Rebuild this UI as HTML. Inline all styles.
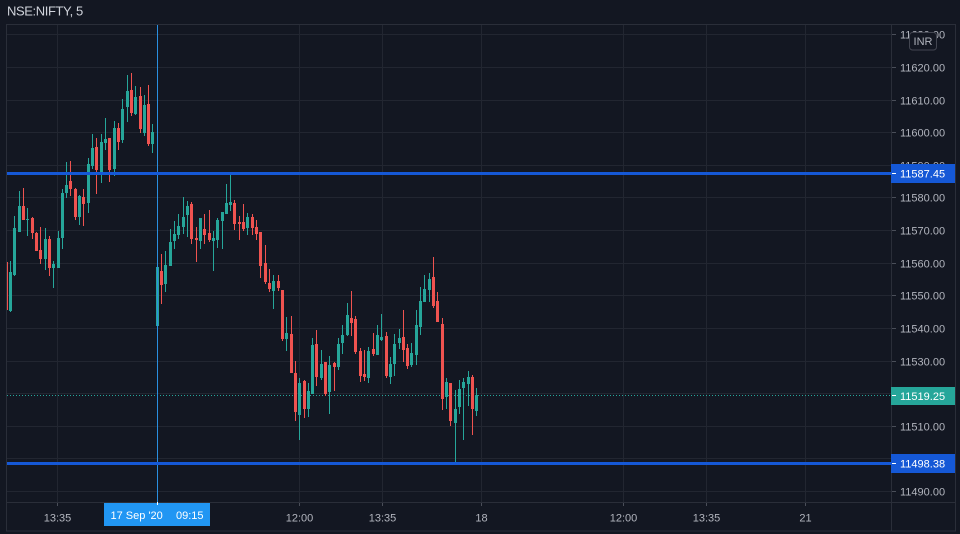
<!DOCTYPE html>
<html><head><meta charset="utf-8"><style>
html,body{margin:0;padding:0;background:#131722;width:960px;height:534px;overflow:hidden}
svg{display:block}
text{font-family:"Liberation Sans",sans-serif}
</style></head><body>
<svg width="960" height="534" viewBox="0 0 960 534" xmlns="http://www.w3.org/2000/svg">
<rect x="0" y="0" width="960" height="534" fill="#131722"/>
<defs><clipPath id="pane"><rect x="7" y="25" width="884" height="477"/></clipPath></defs>
<text x="7" y="15.5" font-size="13" letter-spacing="-0.4" fill="#d1d4dc">NSE:NIFTY, 5</text>
<g stroke="#222631" stroke-width="1">
<line x1="7" x2="891" y1="34.5" y2="34.5"/><line x1="7" x2="891" y1="67.5" y2="67.5"/><line x1="7" x2="891" y1="100.5" y2="100.5"/><line x1="7" x2="891" y1="132.5" y2="132.5"/><line x1="7" x2="891" y1="165.5" y2="165.5"/><line x1="7" x2="891" y1="197.5" y2="197.5"/><line x1="7" x2="891" y1="230.5" y2="230.5"/><line x1="7" x2="891" y1="263.5" y2="263.5"/><line x1="7" x2="891" y1="295.5" y2="295.5"/><line x1="7" x2="891" y1="328.5" y2="328.5"/><line x1="7" x2="891" y1="361.5" y2="361.5"/><line x1="7" x2="891" y1="393.5" y2="393.5"/><line x1="7" x2="891" y1="426.5" y2="426.5"/><line x1="7" x2="891" y1="458.5" y2="458.5"/><line x1="7" x2="891" y1="491.5" y2="491.5"/>
<line x1="57.5" x2="57.5" y1="25" y2="502"/><line x1="157.5" x2="157.5" y1="25" y2="502"/><line x1="299.5" x2="299.5" y1="25" y2="502"/><line x1="382.5" x2="382.5" y1="25" y2="502"/><line x1="481.5" x2="481.5" y1="25" y2="502"/><line x1="623.5" x2="623.5" y1="25" y2="502"/><line x1="706.5" x2="706.5" y1="25" y2="502"/><line x1="805.5" x2="805.5" y1="25" y2="502"/>
</g>
<g clip-path="url(#pane)">
<line x1="7" x2="891" y1="395.5" y2="395.5" stroke="#26a69a" stroke-width="1" stroke-dasharray="1 2"/>
<g fill="#26a69a">
<rect x="10" y="261" width="1" height="51"/><rect x="9" y="272" width="3" height="39"/>
<rect x="14" y="216" width="1" height="60"/><rect x="13" y="228" width="3" height="47"/>
<rect x="19" y="191" width="1" height="41"/><rect x="18" y="206" width="3" height="26"/>
<rect x="27" y="208" width="1" height="28"/><rect x="26" y="219" width="3" height="1"/>
<rect x="45" y="228" width="1" height="42"/><rect x="44" y="239" width="3" height="20"/>
<rect x="53" y="261" width="1" height="27"/><rect x="52" y="264" width="3" height="4"/>
<rect x="58" y="231" width="1" height="37"/><rect x="57" y="238" width="3" height="30"/>
<rect x="62" y="189" width="1" height="60"/><rect x="61" y="193" width="3" height="45"/>
<rect x="66" y="162" width="1" height="36"/><rect x="65" y="185" width="3" height="8"/>
<rect x="79" y="195" width="1" height="30"/><rect x="78" y="196" width="3" height="21"/>
<rect x="88" y="158" width="1" height="55"/><rect x="87" y="164" width="3" height="39"/>
<rect x="92" y="134" width="1" height="35"/><rect x="91" y="148" width="3" height="18"/>
<rect x="101" y="134" width="1" height="49"/><rect x="100" y="142" width="3" height="30"/>
<rect x="105" y="118" width="1" height="32"/><rect x="104" y="139" width="3" height="4"/>
<rect x="114" y="121" width="1" height="55"/><rect x="113" y="128" width="3" height="41"/>
<rect x="122" y="99" width="1" height="44"/><rect x="121" y="109" width="3" height="31"/>
<rect x="127" y="75" width="1" height="47"/><rect x="126" y="91" width="3" height="16"/>
<rect x="135" y="86" width="1" height="29"/><rect x="134" y="97" width="3" height="17"/>
<rect x="144" y="95" width="1" height="41"/><rect x="143" y="105" width="3" height="28"/>
<rect x="152" y="124" width="1" height="29"/><rect x="151" y="132" width="3" height="12"/>
<rect x="157" y="263" width="1" height="64"/><rect x="156" y="267" width="3" height="59"/>
<rect x="165" y="251" width="1" height="41"/><rect x="164" y="265" width="3" height="19"/>
<rect x="170" y="229" width="1" height="37"/><rect x="169" y="242" width="3" height="24"/>
<rect x="174" y="221" width="1" height="28"/><rect x="173" y="234" width="3" height="7"/>
<rect x="178" y="214" width="1" height="25"/><rect x="177" y="226" width="3" height="9"/>
<rect x="183" y="197" width="1" height="37"/><rect x="182" y="217" width="3" height="10"/>
<rect x="187" y="201" width="1" height="36"/><rect x="186" y="206" width="3" height="9"/>
<rect x="200" y="218" width="1" height="31"/><rect x="199" y="218" width="3" height="23"/>
<rect x="213" y="231" width="1" height="40"/><rect x="212" y="238" width="3" height="3"/>
<rect x="217" y="218" width="1" height="30"/><rect x="216" y="220" width="3" height="20"/>
<rect x="222" y="212" width="1" height="37"/><rect x="221" y="212" width="3" height="9"/>
<rect x="226" y="184" width="1" height="30"/><rect x="225" y="203" width="3" height="11"/>
<rect x="230" y="173" width="1" height="38"/><rect x="229" y="202" width="3" height="3"/>
<rect x="247" y="213" width="1" height="22"/><rect x="246" y="217" width="3" height="11"/>
<rect x="273" y="275" width="1" height="34"/><rect x="272" y="281" width="3" height="10"/>
<rect x="286" y="317" width="1" height="34"/><rect x="285" y="333" width="3" height="6"/>
<rect x="299" y="378" width="1" height="62"/><rect x="298" y="383" width="3" height="32"/>
<rect x="308" y="383" width="1" height="34"/><rect x="307" y="391" width="3" height="18"/>
<rect x="312" y="338" width="1" height="56"/><rect x="311" y="345" width="3" height="49"/>
<rect x="321" y="350" width="1" height="30"/><rect x="320" y="364" width="3" height="14"/>
<rect x="329" y="356" width="1" height="58"/><rect x="328" y="365" width="3" height="27"/>
<rect x="338" y="338" width="1" height="32"/><rect x="337" y="344" width="3" height="23"/>
<rect x="342" y="325" width="1" height="29"/><rect x="341" y="335" width="3" height="8"/>
<rect x="347" y="303" width="1" height="33"/><rect x="346" y="315" width="3" height="20"/>
<rect x="368" y="347" width="1" height="36"/><rect x="367" y="351" width="3" height="27"/>
<rect x="377" y="325" width="1" height="30"/><rect x="376" y="335" width="3" height="20"/>
<rect x="381" y="314" width="1" height="27"/><rect x="380" y="337" width="3" height="3"/>
<rect x="390" y="357" width="1" height="27"/><rect x="389" y="364" width="3" height="13"/>
<rect x="394" y="334" width="1" height="42"/><rect x="393" y="344" width="3" height="20"/>
<rect x="399" y="329" width="1" height="20"/><rect x="398" y="338" width="3" height="5"/>
<rect x="411" y="343" width="1" height="24"/><rect x="410" y="353" width="3" height="12"/>
<rect x="416" y="310" width="1" height="55"/><rect x="415" y="325" width="3" height="30"/>
<rect x="420" y="287" width="1" height="48"/><rect x="419" y="301" width="3" height="26"/>
<rect x="424" y="275" width="1" height="27"/><rect x="423" y="289" width="3" height="13"/>
<rect x="429" y="273" width="1" height="29"/><rect x="428" y="279" width="3" height="11"/>
<rect x="446" y="378" width="1" height="31"/><rect x="445" y="382" width="3" height="15"/>
<rect x="455" y="390" width="1" height="73"/><rect x="454" y="409" width="3" height="14"/>
<rect x="459" y="380" width="1" height="34"/><rect x="458" y="389" width="3" height="18"/>
<rect x="463" y="378" width="1" height="62"/><rect x="462" y="382" width="3" height="6"/>
<rect x="468" y="371" width="1" height="35"/><rect x="467" y="377" width="3" height="7"/>
<rect x="476" y="388" width="1" height="28"/><rect x="475" y="395" width="3" height="16"/>
</g>
<g fill="#ef5350">
<rect x="6" y="262" width="1" height="49"/><rect x="5" y="262" width="3" height="48"/>
<rect x="23" y="188" width="1" height="32"/><rect x="22" y="206" width="3" height="14"/>
<rect x="32" y="217" width="1" height="22"/><rect x="31" y="218" width="3" height="15"/>
<rect x="36" y="232" width="1" height="19"/><rect x="35" y="233" width="3" height="18"/>
<rect x="40" y="227" width="1" height="37"/><rect x="39" y="250" width="3" height="9"/>
<rect x="49" y="236" width="1" height="40"/><rect x="48" y="239" width="3" height="29"/>
<rect x="70" y="161" width="1" height="35"/><rect x="69" y="181" width="3" height="8"/>
<rect x="75" y="188" width="1" height="32"/><rect x="74" y="189" width="3" height="28"/>
<rect x="83" y="189" width="1" height="37"/><rect x="82" y="197" width="3" height="7"/>
<rect x="96" y="138" width="1" height="56"/><rect x="95" y="147" width="3" height="23"/>
<rect x="109" y="138" width="1" height="44"/><rect x="108" y="138" width="3" height="32"/>
<rect x="118" y="123" width="1" height="27"/><rect x="117" y="128" width="3" height="14"/>
<rect x="131" y="73" width="1" height="43"/><rect x="130" y="90" width="3" height="23"/>
<rect x="140" y="87" width="1" height="46"/><rect x="139" y="96" width="3" height="33"/>
<rect x="148" y="85" width="1" height="61"/><rect x="147" y="104" width="3" height="40"/>
<rect x="161" y="254" width="1" height="50"/><rect x="160" y="271" width="3" height="14"/>
<rect x="191" y="202" width="1" height="42"/><rect x="190" y="204" width="3" height="35"/>
<rect x="196" y="227" width="1" height="35"/><rect x="195" y="238" width="3" height="2"/>
<rect x="204" y="214" width="1" height="30"/><rect x="203" y="229" width="3" height="6"/>
<rect x="209" y="210" width="1" height="32"/><rect x="208" y="233" width="3" height="7"/>
<rect x="234" y="200" width="1" height="30"/><rect x="233" y="203" width="3" height="21"/>
<rect x="239" y="216" width="1" height="24"/><rect x="238" y="222" width="3" height="2"/>
<rect x="243" y="204" width="1" height="27"/><rect x="242" y="222" width="3" height="7"/>
<rect x="252" y="214" width="1" height="21"/><rect x="251" y="217" width="3" height="11"/>
<rect x="256" y="220" width="1" height="20"/><rect x="255" y="227" width="3" height="7"/>
<rect x="260" y="232" width="1" height="46"/><rect x="259" y="232" width="3" height="34"/>
<rect x="265" y="245" width="1" height="39"/><rect x="264" y="263" width="3" height="19"/>
<rect x="269" y="269" width="1" height="23"/><rect x="268" y="283" width="3" height="6"/>
<rect x="278" y="275" width="1" height="16"/><rect x="277" y="281" width="3" height="7"/>
<rect x="282" y="290" width="1" height="51"/><rect x="281" y="290" width="3" height="49"/>
<rect x="291" y="316" width="1" height="57"/><rect x="290" y="334" width="3" height="39"/>
<rect x="295" y="361" width="1" height="60"/><rect x="294" y="373" width="3" height="39"/>
<rect x="304" y="380" width="1" height="38"/><rect x="303" y="381" width="3" height="28"/>
<rect x="316" y="330" width="1" height="56"/><rect x="315" y="344" width="3" height="33"/>
<rect x="325" y="362" width="1" height="34"/><rect x="324" y="362" width="3" height="32"/>
<rect x="334" y="362" width="1" height="29"/><rect x="333" y="363" width="3" height="4"/>
<rect x="351" y="291" width="1" height="45"/><rect x="350" y="318" width="3" height="5"/>
<rect x="355" y="316" width="1" height="38"/><rect x="354" y="319" width="3" height="33"/>
<rect x="360" y="348" width="1" height="34"/><rect x="359" y="351" width="3" height="25"/>
<rect x="364" y="350" width="1" height="31"/><rect x="363" y="374" width="3" height="3"/>
<rect x="373" y="333" width="1" height="23"/><rect x="372" y="349" width="3" height="5"/>
<rect x="386" y="332" width="1" height="46"/><rect x="385" y="336" width="3" height="40"/>
<rect x="403" y="310" width="1" height="52"/><rect x="402" y="337" width="3" height="13"/>
<rect x="407" y="344" width="1" height="25"/><rect x="406" y="348" width="3" height="18"/>
<rect x="433" y="257" width="1" height="51"/><rect x="432" y="277" width="3" height="29"/>
<rect x="437" y="292" width="1" height="30"/><rect x="436" y="301" width="3" height="21"/>
<rect x="442" y="318" width="1" height="92"/><rect x="441" y="324" width="3" height="75"/>
<rect x="450" y="383" width="1" height="43"/><rect x="449" y="383" width="3" height="38"/>
<rect x="472" y="375" width="1" height="60"/><rect x="471" y="377" width="3" height="32"/>
</g>
<line x1="157.5" x2="157.5" y1="25" y2="502" stroke="#2a8fe0" stroke-width="1"/>
<rect x="7" y="172" width="884" height="3" fill="#1558d6"/>
<rect x="7" y="462" width="884" height="3" fill="#1558d6"/>
</g>
<g stroke="#2a2e39" stroke-width="1" fill="none">
<rect x="6.5" y="24.5" width="949" height="506.5"/>
<line x1="891.5" x2="891.5" y1="24.5" y2="531"/>
<line x1="6.5" x2="955.5" y1="502.5" y2="502.5"/>
</g>
<g stroke="#4a4e59" stroke-width="1">
<line x1="892" x2="896" y1="34.5" y2="34.5"/><line x1="892" x2="896" y1="67.5" y2="67.5"/><line x1="892" x2="896" y1="100.5" y2="100.5"/><line x1="892" x2="896" y1="132.5" y2="132.5"/><line x1="892" x2="896" y1="165.5" y2="165.5"/><line x1="892" x2="896" y1="197.5" y2="197.5"/><line x1="892" x2="896" y1="230.5" y2="230.5"/><line x1="892" x2="896" y1="263.5" y2="263.5"/><line x1="892" x2="896" y1="295.5" y2="295.5"/><line x1="892" x2="896" y1="328.5" y2="328.5"/><line x1="892" x2="896" y1="361.5" y2="361.5"/><line x1="892" x2="896" y1="393.5" y2="393.5"/><line x1="892" x2="896" y1="426.5" y2="426.5"/><line x1="892" x2="896" y1="458.5" y2="458.5"/><line x1="892" x2="896" y1="491.5" y2="491.5"/>
<line x1="57.5" x2="57.5" y1="503" y2="506"/><line x1="299.5" x2="299.5" y1="503" y2="506"/><line x1="382.5" x2="382.5" y1="503" y2="506"/><line x1="481.5" x2="481.5" y1="503" y2="506"/><line x1="623.5" x2="623.5" y1="503" y2="506"/><line x1="706.5" x2="706.5" y1="503" y2="506"/><line x1="805.5" x2="805.5" y1="503" y2="506"/>
</g>
<g font-size="11" fill="#b2b5be">
<text x="900" y="38.5">11630.00</text><text x="900" y="71.5">11620.00</text><text x="900" y="104.5">11610.00</text><text x="900" y="136.5">11600.00</text><text x="900" y="169.5">11590.00</text><text x="900" y="201.5">11580.00</text><text x="900" y="234.5">11570.00</text><text x="900" y="267.5">11560.00</text><text x="900" y="299.5">11550.00</text><text x="900" y="332.5">11540.00</text><text x="900" y="365.5">11530.00</text><text x="900" y="397.5">11520.00</text><text x="900" y="430.5">11510.00</text><text x="900" y="462.5">11500.00</text><text x="900" y="495.5">11490.00</text>
</g>
<g font-size="11" fill="#b2b5be" text-anchor="middle">
<text x="57.5" y="521.5">13:35</text><text x="299.5" y="521.5">12:00</text><text x="382.5" y="521.5">13:35</text><text x="481.5" y="521.5">18</text><text x="623.5" y="521.5">12:00</text><text x="706.5" y="521.5">13:35</text><text x="805.5" y="521.5">21</text>
</g>
<rect x="909.5" y="32.5" width="27" height="17.5" rx="3" fill="#131722" stroke="#434651"/>
<text x="923" y="45" font-size="11" fill="#b2b5be" text-anchor="middle">INR</text>
<rect x="891" y="164" width="64" height="19" fill="#1558d6"/>
<line x1="892" x2="896" y1="173.5" y2="173.5" stroke="#ffffff"/>
<text x="900" y="177.5" font-size="11" fill="#ffffff">11587.45</text>
<rect x="891" y="387" width="64" height="18" fill="#26a69a"/>
<line x1="892" x2="896" y1="395.5" y2="395.5" stroke="#ffffff"/>
<text x="900" y="400" font-size="11" fill="#ffffff">11519.25</text>
<rect x="891" y="454" width="64" height="19" fill="#1558d6"/>
<line x1="892" x2="896" y1="463.5" y2="463.5" stroke="#ffffff"/>
<text x="900" y="467.5" font-size="11" fill="#ffffff">11498.38</text>
<rect x="104" y="503" width="106" height="23" fill="#2196f3"/>
<line x1="157.5" x2="157.5" y1="502" y2="505" stroke="#ffffff"/>
<text x="110.5" y="519" font-size="11" fill="#ffffff">17 Sep '20</text>
<text x="176" y="519" font-size="11" fill="#ffffff">09:15</text>
</svg>
</body></html>
